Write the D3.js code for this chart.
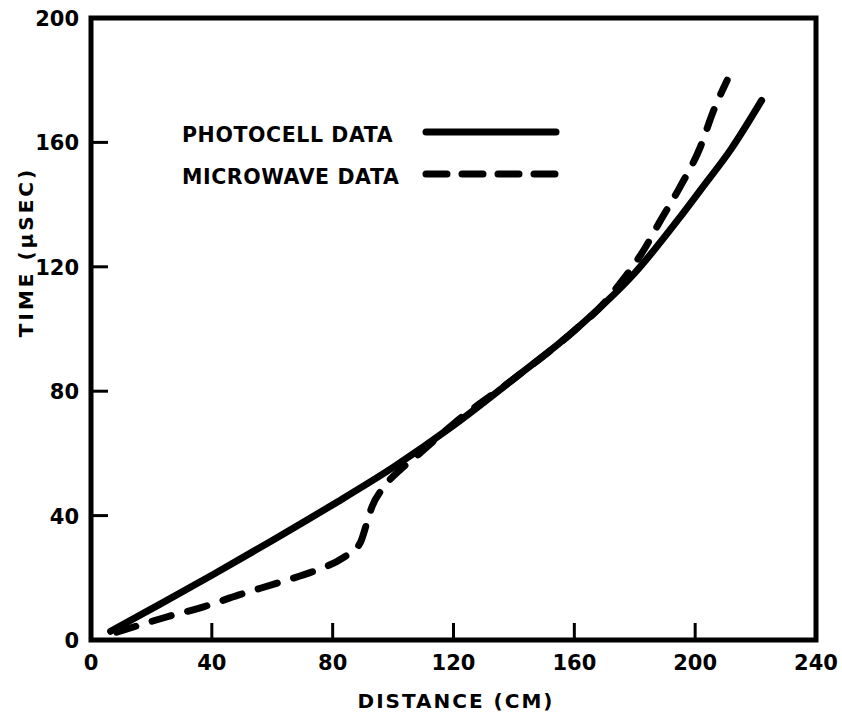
<!DOCTYPE html>
<html>
<head>
<meta charset="utf-8">
<script src="https://cdn.jsdelivr.net/npm/d3@7"></script>
<style>
  html, body { margin: 0; padding: 0; background: #fff; }
  text { font-family: "DejaVu Sans", "Liberation Sans", sans-serif; font-weight: bold; fill: #000; }
</style>
</head>
<body>
<svg id="chart" width="842" height="717"></svg>
<script>
// Distance (cm) vs time (microseconds)
const photocellX = [6.5, 20, 40, 60, 80, 100, 120, 140, 160, 180, 195, 202, 212, 222];
const photocellY = [2.8, 10, 20.8, 32, 43.5, 55.5, 69, 84, 99.5, 118, 136, 145, 158, 173.5];

const microwaveX = [8.5, 25, 37, 49, 62.6, 74.8, 83.4, 89, 91.3, 93, 96.7, 102.3, 107, 114, 120, 140, 160, 170, 175, 180, 183, 188, 195, 201.7, 206, 210.6];
const microwaveY = [2.5, 7.4, 10.6, 14.5, 18.6, 22.5, 26.4, 31, 37.6, 42.8, 48.9, 54.7, 58.5, 64.5, 69.5, 84, 99.5, 108.5, 114.5, 121, 125.4, 134, 145.7, 158.5, 170, 180];

const xTicks = [0, 40, 80, 120, 160, 200, 240];
const yTicks = [0, 40, 80, 120, 160, 200];

const legendLabels = ["PHOTOCELL DATA", "MICROWAVE DATA"];

const svg = d3.select("#chart");
const plotLeft = 91, plotRight = 816, plotTop = 18, plotBottom = 640;

const x = d3.scaleLinear().domain([0, 240]).range([plotLeft, plotRight]);
const y = d3.scaleLinear().domain([0, 200]).range([plotBottom, plotTop]);

// Frame
svg.append("rect")
  .attr("x", plotLeft).attr("y", plotTop)
  .attr("width", plotRight - plotLeft).attr("height", plotBottom - plotTop)
  .attr("fill", "none").attr("stroke", "#000").attr("stroke-width", 5);

// Inward ticks (interior only)
const g = svg.append("g");
g.selectAll(".xt").data(xTicks.slice(1, -1)).join("line")
  .attr("x1", d => x(d)).attr("x2", d => x(d))
  .attr("y1", plotBottom).attr("y2", plotBottom - 17)
  .attr("stroke", "#000").attr("stroke-width", 3);
g.selectAll(".yt").data(yTicks.slice(1, -1)).join("line")
  .attr("x1", plotLeft).attr("x2", plotLeft + 17)
  .attr("y1", d => y(d)).attr("y2", d => y(d))
  .attr("stroke", "#000").attr("stroke-width", 3);

// Tick labels
g.selectAll(".xl").data(xTicks).join("text")
  .attr("x", d => x(d)).attr("y", 670)
  .attr("text-anchor", "middle")
  .attr("font-size", 21)
  .text(d => d);
g.selectAll(".yl").data(yTicks).join("text")
  .attr("x", 79).attr("y", d => y(d) + 8)
  .attr("text-anchor", "end")
  .attr("font-size", 21)
  .text(d => d);

// Axis titles
svg.append("text")
  .attr("x", 456).attr("y", 708)
  .attr("text-anchor", "middle")
  .attr("font-size", 20)
  .attr("letter-spacing", 2)
  .text("DISTANCE (CM)");
svg.append("text")
  .attr("transform", "translate(33,252) rotate(-90)")
  .attr("text-anchor", "middle")
  .attr("font-size", 20)
  .attr("letter-spacing", 3)
  .text("TIME (μSEC)");

const line = d3.line()
  .x(d => x(d[0])).y(d => y(d[1]))
  .curve(d3.curveMonotoneX);

svg.append("path")
  .datum(photocellX.map((v, i) => [v, photocellY[i]]))
  .attr("d", line)
  .attr("fill", "none").attr("stroke", "#000")
  .attr("stroke-width", 7).attr("stroke-linecap", "round");

svg.append("path")
  .datum(microwaveX.map((v, i) => [v, microwaveY[i]]))
  .attr("d", line)
  .attr("fill", "none").attr("stroke", "#000")
  .attr("stroke-width", 7).attr("stroke-linecap", "round")
  .attr("stroke-dasharray", "20,17");

// Legend
const legend = svg.append("g");
legendLabels.forEach((lab, i) => {
  const ly = 132 + i * 42;
  legend.append("text")
    .attr("x", 182).attr("y", ly + 10)
    .attr("font-size", 20.5)
    .attr("letter-spacing", 0.6)
    .text(lab);
  legend.append("line")
    .attr("x1", 426).attr("x2", 556)
    .attr("y1", ly).attr("y2", ly)
    .attr("stroke", "#000").attr("stroke-width", 7)
    .attr("stroke-linecap", "round")
    .attr("stroke-dasharray", i === 0 ? null : "21,15");
});
</script>
</body>
</html>
